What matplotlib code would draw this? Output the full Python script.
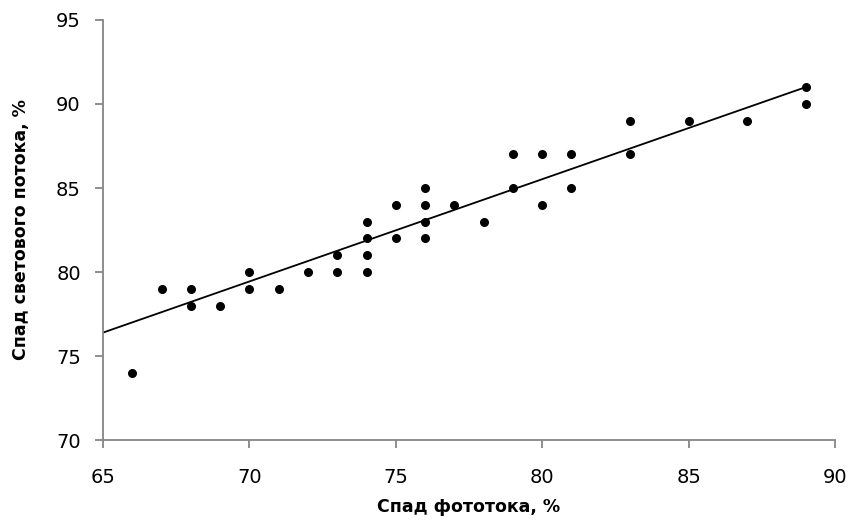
import matplotlib
matplotlib.use("Agg")
import matplotlib.pyplot as plt

# spad fototoka (x) vs spad svetovogo potoka (y), %
photo_drop = [66, 67, 68, 68, 69, 70, 70, 71, 72, 73, 73, 74, 74, 74, 74,
              75, 75, 76, 76, 76, 76, 77, 78, 79, 79, 80, 80, 81, 81,
              83, 83, 85, 87, 89, 89]
light_drop = [74, 79, 79, 78, 78, 80, 79, 79, 80, 81, 80, 83, 82, 81, 80,
              84, 82, 85, 84, 83, 82, 84, 83, 87, 85, 87, 84, 87, 85,
              89, 87, 89, 89, 91, 90]

trend_x = [65, 89]
trend_y = [76.4, 91.0]

x_ticks = [65, 70, 75, 80, 85, 90]
y_ticks = [70, 75, 80, 85, 90, 95]

plt.rcParams['font.family'] = ['DejaVu Sans']

fig = plt.figure(figsize=(8.52, 5.24), dpi=100)
ax = fig.add_axes([0.121, 0.160, 0.859, 0.802])

ax.plot(trend_x, trend_y, color="black", lw=1.3, zorder=2)
ax.scatter(photo_drop, light_drop, s=30, color="black", zorder=3)

ax.set_xlim(65, 90)
ax.set_ylim(70, 95)
ax.set_xticks(x_ticks)
ax.set_yticks(y_ticks)

for side in ["top", "right"]:
    ax.spines[side].set_visible(False)
for side in ["left", "bottom"]:
    ax.spines[side].set_color("#868686")
    ax.spines[side].set_linewidth(1.3)
ax.tick_params(axis="both", direction="out", length=6, width=1.3,
               color="#868686", labelsize=14)
ax.tick_params(axis="x", pad=14)
ax.tick_params(axis="y", pad=10)

ax.set_xlabel("Спад фототока, %", fontsize=12.5, fontweight="bold", labelpad=8)
ax.set_ylabel("Спад светового потока, %", fontsize=12.5, fontweight="bold")
ax.yaxis.set_label_coords(-0.10, 0.5)

fig.savefig("out.png", dpi=100)
